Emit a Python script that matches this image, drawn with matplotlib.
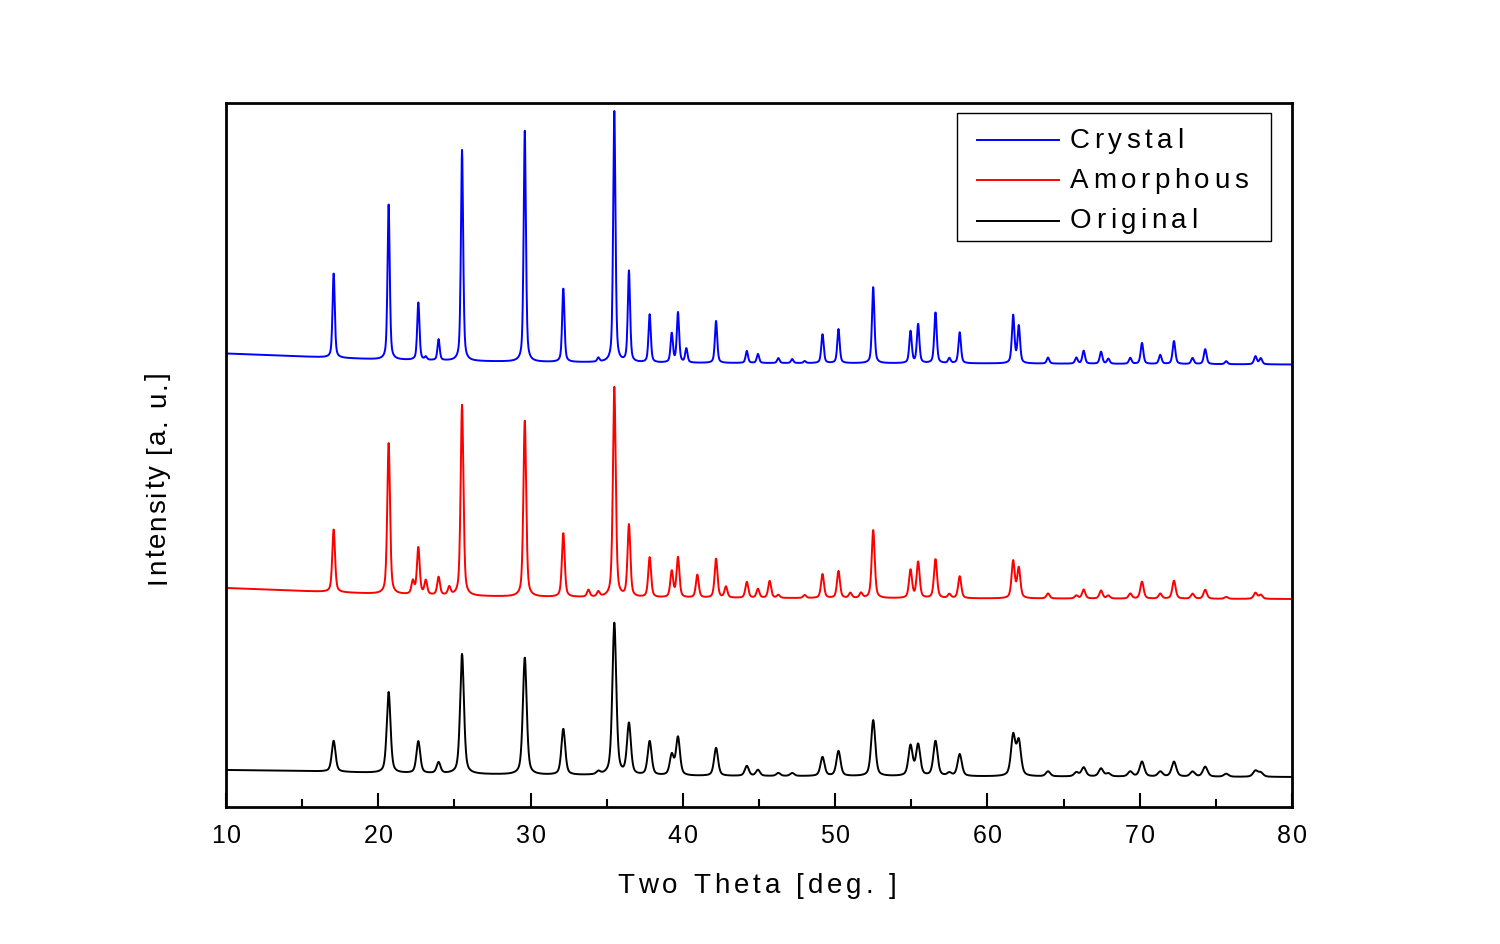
"""XRD patterns of the three samples, stacked, Origin style"""

import numpy as np
import matplotlib
matplotlib.use('Agg')
import matplotlib.pyplot as plt
from matplotlib.lines import Line2D
from matplotlib.patches import Rectangle

FONT = 'Liberation Sans'
W, H = 1500, 945

# peak positions (2 theta, deg), shared by the three patterns
peak_pos = [17.07, 20.68, 22.27, 22.63, 23.12, 23.96, 24.66, 25.50, 29.62, 32.15,
            33.80, 34.45, 35.50, 36.46, 37.82, 39.27, 39.68, 40.23, 40.95, 42.18,
            42.83, 44.20, 44.93, 45.70, 46.27, 47.18, 48.00, 49.17, 50.22, 51.00,
            51.70, 52.50, 54.95, 55.45, 56.59, 57.50, 58.18, 61.69, 62.06, 63.98,
            65.84, 66.32, 67.46, 67.94, 69.38, 70.15, 71.35, 72.25, 73.47, 74.30,
            75.68, 77.60, 77.95]
# peak heights above background (a. u.)
crystal_h = [85, 155, 0, 58, 3, 21, 0, 211, 231, 74,
             0, 4, 251, 91, 48, 29, 50, 14, 0, 42,
             0, 12, 9, 0, 5, 4, 2, 29, 34, 0,
             0, 76, 32, 39, 51, 5, 31, 48, 37, 6,
             6, 13, 12, 5, 6, 21, 9, 23, 6, 15,
             3, 8, 6]
amorphous_h = [63, 151, 13, 47, 14, 18, 8, 191, 176, 64,
               7, 5, 210, 72, 40, 26, 40, 0, 23, 39,
               11, 16, 9, 17, 3, 0, 3, 24, 27, 5,
               5, 68, 28, 36, 39, 4, 22, 37, 30, 5,
               3, 9, 8, 3, 5, 17, 5, 18, 5, 9,
               2, 6, 4]
original_h = [31, 81, 0, 32, 0, 11, 0, 120, 117, 46,
              0, 3, 152, 51, 34, 20, 38, 0, 0, 28,
              0, 10, 6, 0, 3, 3, 0, 19, 25, 0,
              0, 56, 30, 31, 35, 3, 22, 40, 34, 5,
              4, 9, 8, 3, 5, 15, 5, 15, 5, 10,
              3, 6, 4]

# background level (stack offset included), read at these angles
bg_pos = [10, 15, 20, 25, 30, 40, 60, 80]
crystal_bg = [453.5, 450.5, 447.5, 446, 445, 444, 443.5, 442.5]
amorphous_bg = [219, 216, 213, 211, 210, 209, 208.5, 208]
original_bg = [37, 36, 34, 33, 32, 31, 30.5, 30]

two_theta = np.arange(10, 80.001, 0.02)


def pattern(heights, bg, w0, eta=0.5):
    """Somme de pics pseudo-Voigt sur le fond"""
    y = np.interp(two_theta, bg_pos, bg)
    for c, h in zip(peak_pos, heights):
        if h == 0:
            continue
        w = w0 / np.cos(np.radians(c / 2))
        d = (two_theta - c) / (w / 2)
        y += h * (eta / (1 + d ** 2) + (1 - eta) * np.exp(-np.log(2) * d ** 2))
    return y


def advance(fig, ch, size):
    r = fig.canvas.get_renderer()
    t1 = fig.text(0, 0, 'x' + ch + 'x', size=size, family=FONT)
    t2 = fig.text(0, 0, 'xx', size=size, family=FONT)
    w = t1.get_window_extent(r).width - t2.get_window_extent(r).width
    t1.remove()
    t2.remove()
    return w


def spaced_text(fig, px, py, s, size, gap, ha='center', vertical=False, color='black'):
    """Texte avec espacement des lettres (en pixels), comme Origin"""
    adv = [advance(fig, ch, size) for ch in s]
    total = sum(adv) + gap * (len(s) - 1)
    pos = px - total / 2 if ha == 'center' else px
    if vertical:
        pos = py + total / 2
    for ch, a in zip(s, adv):
        if ch != ' ':
            if vertical:
                fig.text(px / W, 1 - pos / H, ch, size=size, family=FONT, color=color,
                         rotation=90, ha='center', va='bottom')
            else:
                fig.text(pos / W, 1 - py / H, ch, size=size, family=FONT, color=color,
                         ha='left', va='center')
        pos = pos - (a + gap) if vertical else pos + a + gap


fig = plt.figure(figsize=(W / 100, H / 100), dpi=100)
ax = fig.add_axes([226 / W, 1 - 808 / H, (1292 - 226) / W, (808 - 104) / H])

ax.plot(two_theta, pattern(crystal_h, crystal_bg, 0.17), color='#0000ff', lw=1.4)
ax.plot(two_theta, pattern(amorphous_h, amorphous_bg, 0.21), color='#ff0000', lw=1.4)
ax.plot(two_theta, pattern(original_h, original_bg, 0.29), color='black', lw=1.4)

ax.set_xlim(10, 80)
ax.set_ylim(0, 704)
ax.set_xticks(range(10, 81, 10))
ax.set_xticks(range(15, 80, 10), minor=True)
ax.set_yticks([])
ax.tick_params(which='both', direction='in', top=False, right=False, left=False,
               labelbottom=False, labelleft=False, width=1.5)
ax.tick_params(which='major', length=10)
ax.tick_params(which='minor', length=5.8)
for sp in ax.spines.values():
    sp.set_linewidth(2)

# tick labels, axis titles
for v in range(10, 81, 10):
    px = 226 + (v - 10) * (1292 - 226) / 70
    spaced_text(fig, px, 836, str(v), 18, 2)
spaced_text(fig, 757, 886, 'Two Theta [deg. ]', 20, 4)
spaced_text(fig, 158, 478, 'Intensity [a. u.]', 20, 2, vertical=True)

# legend
fig.patches.append(Rectangle((957 / W, 1 - 241.5 / H), (1270.5 - 957) / W, 127.5 / H,
                             transform=fig.transFigure, fill=False, lw=1, ec='black'))
for name, col, py in [('Crystal', '#0000ff', 140.5), ('Amorphous', '#ff0000', 181),
                      ('Original', 'black', 221.5)]:
    fig.lines.append(Line2D([977 / W, 1059 / W], [1 - py / H] * 2, color=col, lw=1.4,
                            transform=fig.transFigure))
    spaced_text(fig, 1070, py, name, 20, 4.5, ha='left')

fig.savefig('out.png', dpi=100)
